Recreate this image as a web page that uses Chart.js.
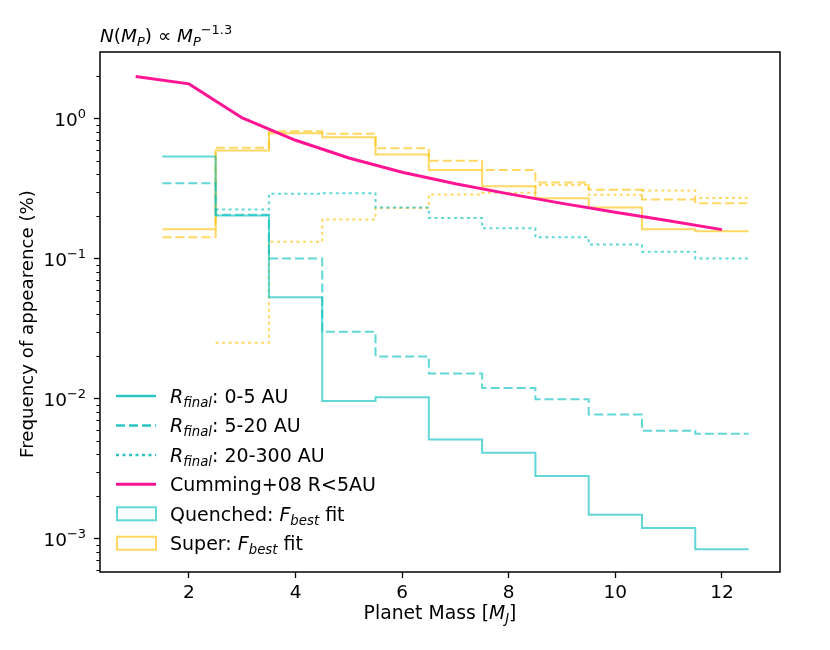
<!DOCTYPE html>
<html>
<head>
<meta charset="utf-8">
<title>Frequency of appearence vs planet mass</title>
<script src="https://cdn.jsdelivr.net/npm/chart.js@4.4.1/dist/chart.umd.min.js"></script>
<style>
    html, body { margin: 0; padding: 0; background: #fff; }
    #wrap { width: 830px; height: 650px; }
</style>
</head>
<body>
<div id="wrap"><canvas id="massChart" width="830" height="650"></canvas></div>
<script>
// ===== DATA =====
const binEdges = [1.5, 2.5, 3.5, 4.5, 5.5, 6.5, 7.5, 8.5, 9.5, 10.5, 11.5, 12.5];

// Quenched: F_best fit, by final radius
const quenched0to5    = [0.535, 0.203, 0.053, 0.0096, 0.0102, 0.0051, 0.0041, 0.0028, 0.00148, 0.00119, 0.00084];
const quenched5to20   = [0.345, 0.206, 0.100, 0.030, 0.020, 0.0151, 0.0119, 0.0099, 0.0077, 0.0059, 0.0056];
const quenched20to300 = [null, 0.224, 0.290, 0.293, 0.232, 0.195, 0.165, 0.142, 0.126, 0.112, 0.100];

// Super: F_best fit, by final radius
const super0to5    = [0.162, 0.591, 0.785, 0.735, 0.553, 0.430, 0.329, 0.270, 0.232, 0.162, 0.157];
const super5to20   = [0.142, 0.618, 0.812, 0.778, 0.614, 0.499, 0.430, 0.350, 0.310, 0.264, 0.248];
const super20to300 = [null, 0.025, 0.132, 0.190, 0.230, 0.287, 0.295, 0.336, 0.286, 0.306, 0.271];

// Cumming+08 R<5AU
const cummingMass = [1, 2, 3, 4, 5, 6, 7, 8, 9, 10, 11, 12];
const cummingFreq = [2.0, 1.77, 1.01, 0.70, 0.523, 0.414, 0.342, 0.290, 0.248, 0.214, 0.186, 0.161];

const xTicks = [2, 4, 6, 8, 10, 12];
const yTicks = [0.001, 0.01, 0.1, 1];
const yTickExponents = ['\u22123', '\u22122', '\u22121', '0'];

// ===== STYLE =====
const FONT = 'DejaVu Sans';
const CYAN = 'rgba(0, 190, 190, 0.62)';
const CYAN_LEGEND = '#2cc3c3';
const GOLD = 'rgba(255, 192, 10, 0.64)';
const PINK = '#ff1493';
const DASH = [9, 4];
const DOT = [3, 3.5];

Chart.defaults.font.family = FONT;
Chart.defaults.color = '#000';

// histogram bins -> step points (last edge closes the final bin)
const stepPoints = (vals) => {
    const pts = vals.map((v, i) => ({ x: binEdges[i], y: v }));
    pts.push({ x: binEdges[vals.length], y: vals[vals.length - 1] });
    return pts;
};

const stepSet = (vals, color, dash) => ({
    data: stepPoints(vals),
    borderColor: color,
    borderWidth: 2,
    borderDash: dash,
    stepped: 'before',
    pointRadius: 0,
    spanGaps: false,
    order: 2
});

// ===== RICH TEXT (sub/superscripts) =====
// run: [text, italic, shift]  shift: 0 base, 1 sub, 2 sup
function richWidth(ctx, runs, size) {
    let w = 0;
    runs.forEach(r => {
        const s = r[2] ? size * 0.7 : size;
        ctx.font = (r[1] ? 'italic ' : '') + s + 'px "' + FONT + '"';
        w += ctx.measureText(r[0]).width;
    });
    return w;
}

function drawRich(ctx, runs, x, y, size, align) {
    const w = richWidth(ctx, runs, size);
    if (align === 'center') x -= w / 2;
    if (align === 'right') x -= w;
    ctx.textAlign = 'left';
    ctx.textBaseline = 'alphabetic';
    runs.forEach(r => {
        const s = r[2] ? size * 0.7 : size;
        const dy = r[2] === 1 ? size * 0.22 : (r[2] === 2 ? -size * 0.42 : 0);
        ctx.font = (r[1] ? 'italic ' : '') + s + 'px "' + FONT + '"';
        ctx.fillText(r[0], x, y + dy);
        x += ctx.measureText(r[0]).width;
    });
}

// ===== DECORATIONS: frame, ticks labels, title, axis labels, legend =====
const decorations = {
    id: 'decorations',
    afterDraw(chart) {
        const ctx = chart.ctx;
        const area = chart.chartArea;
        const yScale = chart.scales.y;
        ctx.save();

        // minor y ticks
        ctx.strokeStyle = '#000';
        ctx.lineWidth = 1;
        for (let e = -4; e <= 0; e++) {
            for (let k = 2; k <= 9; k++) {
                const v = k * Math.pow(10, e);
                if (v < yScale.min || v > yScale.max) continue;
                const py = Math.round(yScale.getPixelForValue(v)) + 0.5;
                ctx.beginPath();
                ctx.moveTo(area.left - 3.6, py);
                ctx.lineTo(area.left, py);
                ctx.stroke();
            }
        }

        // axes frame
        ctx.lineWidth = 1.5;
        ctx.strokeStyle = '#000';
        ctx.strokeRect(area.left, area.top, area.right - area.left, area.bottom - area.top);

        ctx.fillStyle = '#000';

        // y tick labels: 10^n
        yTicks.forEach((v, i) => {
            const py = yScale.getPixelForValue(v);
            drawRich(ctx, [['10', false], [yTickExponents[i], false, 2]], 86, py + 7, 18.5, 'right');
        });

        // title
        drawRich(ctx, [
            ['N', true], ['(', false], ['M', true], ['P', true, 1], [')', false],
            [' \u221D ', false], ['M', true], ['P', true, 1], ['\u22121.3', false, 2]
        ], area.left, 41.5, 18.5, 'left');

        // x axis label
        drawRich(ctx, [
            ['Planet Mass [', false], ['M', true], ['J', true, 1], [']', false]
        ], (area.left + area.right) / 2, 619, 18.8, 'center');

        // y axis label
        ctx.save();
        ctx.translate(33, 324);
        ctx.rotate(-Math.PI / 2);
        drawRich(ctx, [['Frequency of appearence (%)', false]], 0, 0, 18.2, 'center');
        ctx.restore();

        // legend
        const items = [
            { type: 'line', color: CYAN_LEGEND, dash: [], runs: [['R', true], ['final', true, 1], [': 0-5 AU', false]] },
            { type: 'line', color: CYAN_LEGEND, dash: DASH, runs: [['R', true], ['final', true, 1], [': 5-20 AU', false]] },
            { type: 'line', color: CYAN_LEGEND, dash: DOT, runs: [['R', true], ['final', true, 1], [': 20-300 AU', false]] },
            { type: 'line', color: PINK, dash: [], runs: [['Cumming+08 R<5AU', false]] },
            { type: 'box', color: CYAN, runs: [['Quenched: ', false], ['F', true], ['best', true, 1], [' fit', false]] },
            { type: 'box', color: GOLD, runs: [['Super: ', false], ['F', true], ['best', true, 1], [' fit', false]] }
        ];
        items.forEach((it, i) => {
            const cy = 396 + i * 29.45;
            if (it.type === 'line') {
                ctx.strokeStyle = it.color;
                ctx.lineWidth = it.color === PINK ? 3 : 2.5;
                ctx.setLineDash(it.dash);
                ctx.beginPath();
                ctx.moveTo(116, cy);
                ctx.lineTo(156, cy);
                ctx.stroke();
                ctx.setLineDash([]);
            } else {
                ctx.strokeStyle = it.color;
                ctx.lineWidth = 2;
                ctx.strokeRect(117, cy - 6.5, 39, 13);
            }
            ctx.fillStyle = '#000';
            drawRich(ctx, it.runs, 170, cy + 6.8, 19, 'left');
        });

        ctx.restore();
    }
};

// ===== FREQUENCY CHART =====
const chartCtx = document.getElementById('massChart');
new Chart(chartCtx, {
    type: 'line',
    data: {
        datasets: [
            stepSet(quenched0to5, CYAN, []),
            stepSet(quenched5to20, CYAN, DASH),
            stepSet(quenched20to300, CYAN, DOT),
            stepSet(super0to5, GOLD, []),
            stepSet(super5to20, GOLD, DASH),
            stepSet(super20to300, GOLD, DOT),
            {
                data: cummingMass.map((m, i) => ({ x: m, y: cummingFreq[i] })),
                borderColor: PINK,
                borderWidth: 3,
                pointRadius: 0,
                tension: 0,
                order: 1
            }
        ]
    },
    options: {
        responsive: false,
        animation: false,
        layout: {
            padding: { top: 52, right: 50, left: 0, bottom: 0 }
        },
        plugins: {
            legend: { display: false },
            tooltip: { enabled: false }
        },
        scales: {
            x: {
                type: 'linear',
                min: 0.33,
                max: 13.09,
                afterBuildTicks: (scale) => {
                    scale.ticks = xTicks.map(v => ({ value: v }));
                },
                afterFit: (scale) => { scale.height = 78; },
                grid: {
                    drawOnChartArea: false,
                    drawTicks: true,
                    tickLength: 6,
                    tickColor: '#000',
                    tickWidth: 1.3
                },
                border: { display: false },
                ticks: {
                    padding: 4,
                    maxRotation: 0,
                    font: { size: 18.5 },
                    color: '#000'
                }
            },
            y: {
                type: 'logarithmic',
                min: 0.000577,
                max: 2.99,
                afterBuildTicks: (scale) => {
                    scale.ticks = yTicks.map(v => ({ value: v }));
                },
                afterFit: (scale) => { scale.width = 100; },
                grid: {
                    drawOnChartArea: false,
                    drawTicks: true,
                    tickLength: 6,
                    tickColor: '#000',
                    tickWidth: 1.3
                },
                border: { display: false },
                ticks: {
                    display: false
                }
            }
        }
    },
    plugins: [decorations]
});
</script>
</body>
</html>
